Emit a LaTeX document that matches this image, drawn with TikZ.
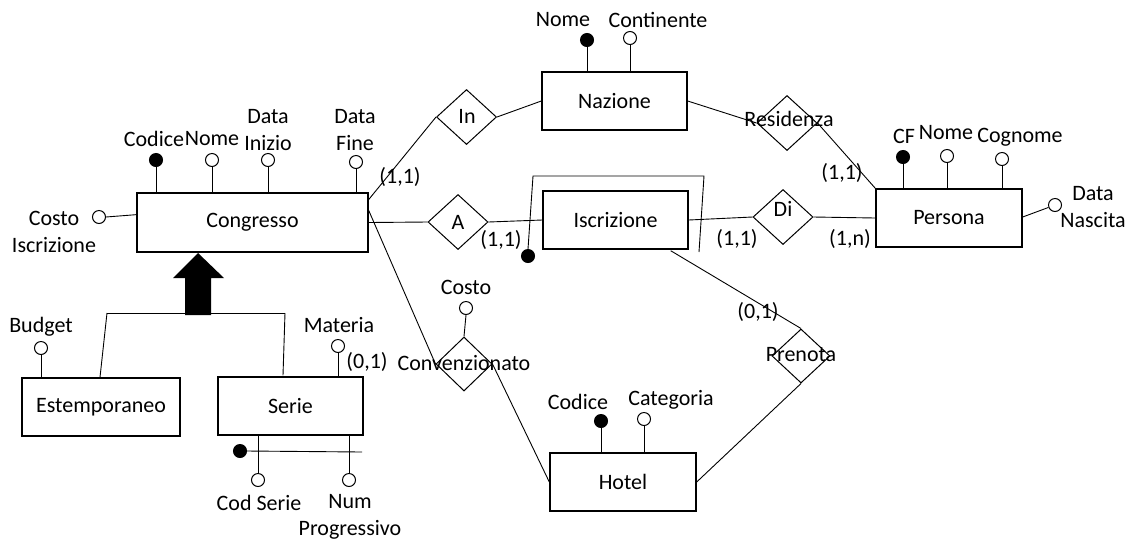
\documentclass[tikz,border=0pt]{standalone}
\usepackage{fontspec}
\setmainfont{Carlito}
\usetikzlibrary{shapes.geometric,calc}
\begin{document}
\begin{tikzpicture}[x=1pt,y=-1pt,
  every node/.style={font=\fontsize{22}{26.4}\selectfont},
  ent/.style={draw,line width=1.4pt,rectangle,inner sep=0,minimum height=58pt},
  rel/.style={draw,line width=1pt,diamond,inner sep=0,minimum width=60pt,minimum height=55pt},
  att/.style={draw,line width=1pt,circle,inner sep=0,minimum size=13pt,fill=white},
  key/.style={att,fill=black},
  lbl/.style={inner sep=0,align=center},
  conn/.style={line width=0.9pt}]
\useasboundingbox (0,0) rectangle (1131,542);

% entities
\node[ent,minimum width=231pt,minimum height=59pt] (cong) at (252.5,222.5) {Congresso};
\node[ent,minimum width=145pt] (naz) at (614.5,101) {Nazione};
\node[ent,minimum width=145pt] (iscr) at (615.5,220) {Iscrizione};
\node[ent,minimum width=146pt] (pers) at (949,218) {Persona};
\node[ent,minimum width=146pt] (hotel) at (623,482) {Hotel};
\node[ent,minimum width=158pt] (estemp) at (101,407) {Estemporaneo};
\node[ent,minimum width=145pt] (serie) at (290.5,406) {Serie};

% relationships
\node[rel] (in) at (466.5,117) {};
\node[rel] (res) at (787,123) {};
\node[rel] (a) at (458,222) {};
\node[rel] (di) at (783,217) {};
\node[rel,minimum width=56pt,minimum height=54pt] (conv) at (464,364) {};
\node[rel,minimum width=58pt,minimum height=54pt] (pren) at (801,356) {};
\node[lbl] (inT) at (467,116) {In};
\node[lbl] (resT) at (789,119) {Residenza};
\node[lbl] (aT) at (458,222) {A};
\node[lbl] (diT) at (783,209) {Di};
\node[lbl] (convT) at (464,363) {Convenzionato};
\node[lbl] (prenT) at (801,355) {Prenota};

% connectors
\draw[conn] ($(cong.north east)!0.12!(cong.south east)$) -- (in.west);
\draw[conn] (in.east) -- (naz.west);
\draw[conn] (naz.east) -- (res.west);
\draw[conn] (res.east) -- (pers.north west);
\draw[conn] (cong.east) -- (a.west);
\draw[conn] (a.east) -- (iscr.west);
\draw[conn] (iscr.east) -- (di.west);
\draw[conn] (di.east) -- (pers.west);
\draw[conn] ($(iscr.south east)+(-18,1)$) -- (pren.north);
\draw[conn] (pren.south) -- (hotel.east);
\draw[conn] ($(cong.north east)!0.30!(cong.south east)$) -- (conv.west);
\draw[conn] (conv.east) -- (hotel.west);

% cardinalities
\node[lbl] (k1) at (400,177) {(1,1)};
\node[lbl] (k2) at (501,240) {(1,1)};
\node[lbl] (k3) at (737,239) {(1,1)};
\node[lbl] (k4) at (850,239) {(1,n)};
\node[lbl] (k5) at (842,173) {(1,1)};
\node[lbl] (k6) at (758,312) {(0,1)};
\node[lbl] (k7) at (367,362) {(0,1)};

% Congresso attributes
\node[key] (c1) at (156,160) {};
\node[att] (c2) at (212,160) {};
\node[att] (c3) at (268,160) {};
\node[att] (c4) at (356,162) {};
\node[att] (c5) at (99,217) {};
\foreach \n in {c1,c2,c3,c4} \draw[conn] (\n.south) -- (\n.south |- cong.north);
\draw[conn] (c5.east) -- ($(cong.north west)!0.37!(cong.south west)$);
\node[lbl] (c1T) at (154,139) {Codice};
\node[lbl] (c2T) at (212,139) {Nome};
\node[lbl] (c3T) at (268,130) {Data\\Inizio};
\node[lbl] (c4T) at (355,130) {Data\\Fine};
\node[lbl] (c5T) at (54,232) {Costo\\Iscrizione};

% Nazione attributes
\node[key] (n1) at (587,40) {};
\node[att] (n2) at (630,38) {};
\foreach \n in {n1,n2} \draw[conn] (\n.south) -- (\n.south |- naz.north);
\node[lbl] (n1T) at (563,20) {Nome};
\node[lbl] (n2T) at (658,20) {Continente};

% Persona attributes
\node[key] (p1) at (903,157) {};
\node[att] (p2) at (947,156) {};
\node[att] (p3) at (1002,159) {};
\node[att] (p4) at (1055,205) {};
\foreach \n in {p1,p2,p3} \draw[conn] (\n.south) -- (\n.south |- pers.north);
\draw[conn] ($(pers.east)+(0,-1)$) -- (p4);
\node[lbl] (p1T) at (904,136) {CF};
\node[lbl] (p2T) at (946,133) {Nome};
\node[lbl] (p3T) at (1020,137) {Cognome};
\node[lbl] (p4T) at (1093,207) {Data\\Nascita};

% Hotel attributes
\node[key] (h1) at (601,421) {};
\node[att] (h2) at (644,419) {};
\foreach \n in {h1,h2} \draw[conn] (\n.south) -- (\n.south |- hotel.north);
\node[lbl] (h1T) at (578,402) {Codice};
\node[lbl] (h2T) at (671,400) {Categoria};

% Convenzionato attribute
\node[att] (v1) at (466,308) {};
\draw[conn] (v1.south) -- (conv.north);
\node[lbl] (v1T) at (466,287) {Costo};

% Estemporaneo / Serie attributes
\node[att] (e1) at (41,348) {};
\draw[conn] (e1.south) -- (e1.south |- estemp.north);
\node[lbl] (e1T) at (41,327) {Budget};
\node[att] (s1) at (338,346) {};
\draw[conn] (s1.south) -- (s1.south |- serie.north);
\node[lbl] (s1T) at (339,325) {Materia};

% Serie identifier
\node[att] (s2) at (258,480) {};
\node[att] (s3) at (349,480) {};
\draw[conn] (s2.north |- serie.south) -- (s2.north);
\draw[conn] (s3.north |- serie.south) -- (s3.north);
\node[key] (s4) at (240,451) {};
\coordinate (s4e) at (362,452);
\draw[conn] (s4.east) -- (s4e);
\node[lbl] (s2T) at (259,503) {Cod Serie};
\node[lbl] (s3T) at (350,517) {Num\\Progressivo};

% Iscrizione identifier
\node[key] (i1) at (528,256) {};
\coordinate (iA) at (533,176);
\coordinate (iB) at (704,176);
\coordinate (iC) at (699,252);
\draw[conn] (i1.north) -- (iA) -- (iB) -- (iC);

% generalization
\fill (198,253) -- (224,278) -- (211,278) -- (211,315) -- (185,315) -- (185,278) -- (173,278) -- cycle;
\coordinate (gL) at (107,313);
\coordinate (gR) at (285,313);
\draw[conn] (gL) -- (gR);
\draw[conn] (gL) -- ($(estemp.north)+(-1,0)$);
\draw[conn] (gR) -- ($(serie.north)+(-7.5,-1)$);
\end{tikzpicture}
\end{document}
